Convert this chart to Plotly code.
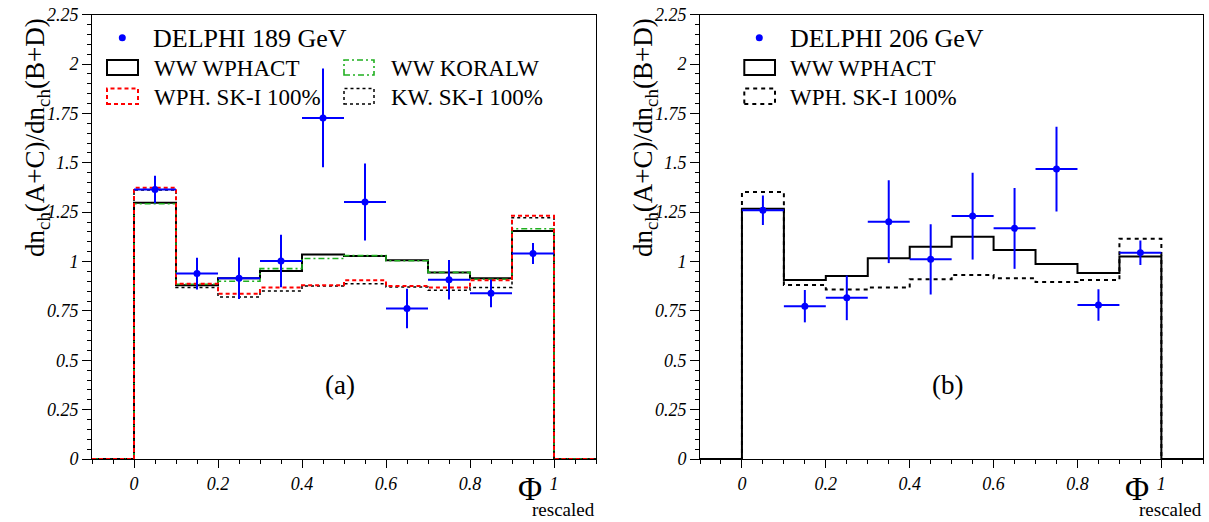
import plotly.graph_objects as go

# ---------------- data ----------------
bin_edges = [0.0, 0.1, 0.2, 0.3, 0.4, 0.5, 0.6, 0.7, 0.8, 0.9, 1.0]
bin_centers = [0.05, 0.15, 0.25, 0.35, 0.45, 0.55, 0.65, 0.75, 0.85, 0.95]
half_width = [0.05] * 10

# (a) 189 GeV
wphact_189 = [1.298, 0.880, 0.915, 0.952, 1.036, 1.028, 1.006, 0.944, 0.915, 1.154]
koralw_189 = [1.293, 0.885, 0.900, 0.964, 1.015, 1.030, 1.004, 0.945, 0.910, 1.166]
wph_sk1_189 = [1.374, 0.888, 0.837, 0.868, 0.880, 0.905, 0.876, 0.868, 0.905, 1.232]
kw_sk1_189 = [1.362, 0.868, 0.820, 0.851, 0.876, 0.888, 0.871, 0.854, 0.868, 1.222]
data_189 = [1.365, 0.939, 0.915, 1.003, 1.727, 1.301, 0.762, 0.908, 0.839, 1.041]
err_189 = [0.070, 0.080, 0.105, 0.133, 0.250, 0.195, 0.100, 0.100, 0.070, 0.053]

# (b) 206 GeV
wphact_206 = [1.267, 0.907, 0.927, 1.016, 1.075, 1.126, 1.058, 0.987, 0.942, 1.025]
wph_sk1_206 = [1.352, 0.881, 0.859, 0.868, 0.910, 0.932, 0.915, 0.896, 0.907, 1.116]
data_206 = [1.260, 0.774, 0.816, 1.202, 1.011, 1.230, 1.168, 1.468, 0.780, 1.045]
err_206 = [0.075, 0.082, 0.113, 0.210, 0.178, 0.220, 0.205, 0.215, 0.080, 0.062]

x_range = [-0.1, 1.1]
y_range = [0, 2.25]
x_tickvals = [0, 0.2, 0.4, 0.6, 0.8, 1.0]
x_ticktext = ["0", "0.2", "0.4", "0.6", "0.8", "1"]
y_tickvals = [0, 0.25, 0.5, 0.75, 1.0, 1.25, 1.5, 1.75, 2.0, 2.25]
y_ticktext = ["0", "0.25", "0.5", "0.75", "1", "1.25", "1.5", "1.75", "2", "2.25"]

y_title = "dn<sub>ch</sub>(A+C)/dn<sub>ch</sub>(B+D)"

# ---------------- helpers ----------------
W, H = 1209, 522
SERIF = "Liberation Serif"
BLUE = "#0000ff"
GREEN = "#20b020"
RED = "#ff0000"


def px(x):
    return x / W


def py(y):
    return 1 - y / H


def hist_xy(values):
    # ROOT-style histogram outline: zero outside, steps inside
    xs = [x_range[0]] + bin_edges + [x_range[1]]
    ys = [0] + list(values) + [0, 0]
    return xs, ys


fig = go.Figure()


def add_hist(values, xa, ya, color, width, dash):
    xs, ys = hist_xy(values)
    fig.add_trace(go.Scatter(
        x=xs, y=ys, mode="lines", line=dict(shape="hv", color=color, width=width, dash=dash),
        xaxis=xa, yaxis=ya, showlegend=False, hoverinfo="skip"))


def add_data(vals, errs, xa, ya):
    fig.add_trace(go.Scatter(
        x=bin_centers, y=vals, mode="markers",
        marker=dict(color=BLUE, size=7),
        error_y=dict(type="data", array=errs, color=BLUE, thickness=2, width=0),
        error_x=dict(type="data", array=half_width, color=BLUE, thickness=2, width=0),
        xaxis=xa, yaxis=ya, showlegend=False, hoverinfo="skip"))


# panel (a)
add_hist(wphact_189, "x", "y", "black", 2, "solid")
add_hist(koralw_189, "x", "y", GREEN, 1.6, "6px,3px,2px,3px")
add_hist(kw_sk1_189, "x", "y", "black", 1.5, "dot")
add_hist(wph_sk1_189, "x", "y", RED, 2, "4px,3px")
add_data(data_189, err_189, "x", "y")

# panel (b)
add_hist(wphact_206, "x2", "y2", "black", 2, "solid")
add_hist(wph_sk1_206, "x2", "y2", "black", 2, "4px,4px")
add_data(data_206, err_206, "x2", "y2")

tickfont = dict(family=SERIF, size=18, color="black", style="italic")

xaxis_common = dict(
    range=x_range, tickmode="array", tickvals=x_tickvals, ticktext=x_ticktext,
    ticks="outside", ticklen=8, tickwidth=1, tickcolor="black",
    minor=dict(tickmode="linear", tick0=0, dtick=0.05, ticks="outside", ticklen=4,
               tickcolor="black", tickwidth=1),
    showline=True, mirror=True, linecolor="black", linewidth=1,
    showgrid=False, zeroline=False, tickfont=tickfont, automargin=False,
)
yaxis_common = dict(
    range=y_range, tickmode="array", tickvals=y_tickvals, ticktext=y_ticktext,
    ticks="outside", ticklen=9, tickwidth=1, tickcolor="black",
    minor=dict(tickmode="linear", tick0=0, dtick=0.05, ticks="outside", ticklen=4,
               tickcolor="black", tickwidth=1),
    showline=True, mirror=True, linecolor="black", linewidth=1,
    showgrid=False, zeroline=False, tickfont=tickfont, automargin=False,
    domain=[py(459), py(14.7)],
)

fig.update_layout(
    width=W, height=H,
    margin=dict(l=0, r=0, t=0, b=0, autoexpand=False),
    paper_bgcolor="white", plot_bgcolor="white",
    font=dict(family=SERIF, color="black"),
    xaxis={**xaxis_common, "domain": [px(92), px(596)], "anchor": "y"},
    yaxis={**yaxis_common, "anchor": "x"},
    xaxis2={**xaxis_common, "domain": [px(700), px(1203.3)], "anchor": "y2"},
    yaxis2={**yaxis_common, "anchor": "x2"},
    showlegend=False,
)

ann = []
shapes = []

# y titles
for xc in (37, 645):
    ann.append(dict(x=px(xc), y=py(138), xref="paper", yref="paper", text=y_title,
                    textangle=-90, showarrow=False, xanchor="center", yanchor="middle",
                    font=dict(family=SERIF, size=27, color="black")))

# x titles
for xr in (596, 1203):
    ann.append(dict(x=px(xr - 52), y=py(489), xref="paper", yref="paper", text="\u03a6",
                    showarrow=False, xanchor="right", yanchor="middle",
                    font=dict(family=SERIF, size=33, color="black")))
    ann.append(dict(x=px(xr + 1), y=py(509), xref="paper", yref="paper", text="rescaled",
                    showarrow=False, xanchor="right", yanchor="middle",
                    font=dict(family=SERIF, size=19, color="black")))

# panel labels
ann.append(dict(x=0.49, y=0.375, xref="x", yref="y", text="(a)", showarrow=False,
                xanchor="center", yanchor="middle", font=dict(family=SERIF, size=27, color="black")))
ann.append(dict(x=0.49, y=0.375, xref="x2", yref="y2", text="(b)", showarrow=False,
                xanchor="center", yanchor="middle", font=dict(family=SERIF, size=27, color="black")))


def legend_text(x, y, text, size):
    ann.append(dict(x=px(x), y=py(y), xref="paper", yref="paper", text=text, showarrow=False,
                    xanchor="left", yanchor="middle", font=dict(family=SERIF, size=size, color="black")))


def legend_box(x0, x1, y0, y1, color, width, dash):
    shapes.append(dict(type="rect", xref="paper", yref="paper", x0=px(x0), x1=px(x1),
                       y0=py(y1), y1=py(y0), line=dict(color=color, width=width, dash=dash),
                       fillcolor="rgba(0,0,0,0)"))


def legend_dot(x, y):
    r = 3.5
    shapes.append(dict(type="circle", xref="paper", yref="paper", x0=px(x - r), x1=px(x + r),
                       y0=py(y + r), y1=py(y - r), line=dict(color=BLUE, width=0), fillcolor=BLUE))


# legend (a)
legend_dot(122.3, 37.7)
legend_text(150.5, 38.5, "DELPHI 189 GeV", 26)
legend_box(107, 138, 60, 75, "black", 2, "solid")
legend_text(152, 68.5, "WW WPHACT", 23)
legend_box(107, 138, 88.5, 104, RED, 2, "4px,3px")
legend_text(152, 97.5, "WPH. SK-I 100%", 23)
legend_box(344, 374, 60, 75, GREEN, 1.6, "6px,3px,2px,3px")
legend_text(389, 68.5, "WW KORALW", 23)
legend_box(344, 374, 88.5, 104, "black", 1.5, "dot")
legend_text(389, 97.5, "KW. SK-I 100%", 23)

# legend (b)
legend_dot(759.3, 37.7)
legend_text(788, 38.5, "DELPHI 206 GeV", 26)
legend_box(744.3, 775, 60, 75, "black", 2, "solid")
legend_text(788, 68.5, "WW WPHACT", 23)
legend_box(744.3, 775, 88.5, 104, "black", 2, "4px,4px")
legend_text(788, 97.5, "WPH. SK-I 100%", 23)

fig.update_layout(annotations=ann, shapes=shapes)

fig.write_html("out.html", config={"displayModeBar": False},
               post_script="document.body.style.margin='0';document.body.style.overflow='hidden';")
